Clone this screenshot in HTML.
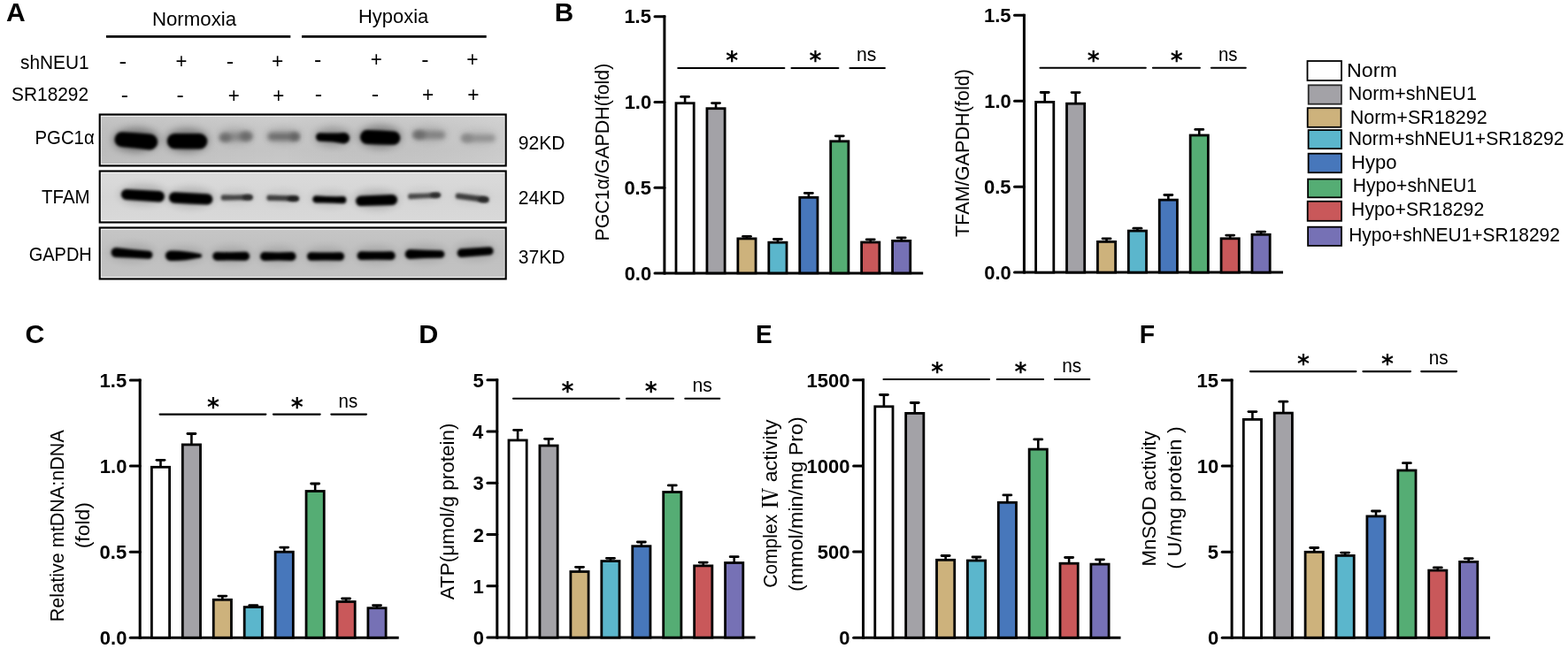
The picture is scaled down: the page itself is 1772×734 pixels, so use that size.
<!DOCTYPE html>
<html><head><meta charset="utf-8"><title>Figure</title>
<style>html,body{margin:0;padding:0;background:#fff;width:1772px;height:734px;overflow:hidden}svg{display:block}</style>
</head><body>
<svg width="1772" height="734" viewBox="0 0 1772 734" font-family="&apos;Liberation Sans&apos;, Arial, sans-serif">
<rect width="1772" height="734" fill="#fff"/>
<text x="7.12" y="23.70" font-size="29" font-weight="700" textLength="21.71" lengthAdjust="spacingAndGlyphs" fill="#000">A</text>
<text x="626.85" y="23.60" font-size="29" font-weight="700" textLength="21.43" lengthAdjust="spacingAndGlyphs" fill="#000">B</text>
<text x="28.49" y="388.30" font-size="29" font-weight="700" textLength="21.90" lengthAdjust="spacingAndGlyphs" fill="#000">C</text>
<text x="473.19" y="387.90" font-size="29" font-weight="700" textLength="22.07" lengthAdjust="spacingAndGlyphs" fill="#000">D</text>
<text x="853.97" y="387.90" font-size="29" font-weight="700" textLength="18.69" lengthAdjust="spacingAndGlyphs" fill="#000">E</text>
<text x="1287.65" y="387.90" font-size="29" font-weight="700" textLength="17.30" lengthAdjust="spacingAndGlyphs" fill="#000">F</text>
<text x="171.91" y="29.20" font-size="21.8" font-weight="400" textLength="95.20" lengthAdjust="spacingAndGlyphs" fill="#000">Normoxia</text>
<text x="405.04" y="26.10" font-size="21.8" font-weight="400" textLength="79.16" lengthAdjust="spacingAndGlyphs" fill="#000">Hypoxia</text>
<line x1="120.00" y1="41.30" x2="328.30" y2="41.30" stroke="#000" stroke-width="2.8" stroke-linecap="butt"/>
<line x1="341.00" y1="41.30" x2="549.70" y2="41.30" stroke="#000" stroke-width="2.8" stroke-linecap="butt"/>
<text x="22.98" y="77.60" font-size="21.8" font-weight="400" textLength="77.64" lengthAdjust="spacingAndGlyphs" fill="#000">shNEU1</text>
<text x="13.04" y="113.60" font-size="21.8" font-weight="400" textLength="87.07" lengthAdjust="spacingAndGlyphs" fill="#000">SR18292</text>
<text x="134.62" y="76.78" font-size="24" font-weight="400" textLength="8.67" lengthAdjust="spacingAndGlyphs" fill="#000">-</text>
<text x="198.55" y="77.20" font-size="24" font-weight="400" textLength="12.92" lengthAdjust="spacingAndGlyphs" fill="#000">+</text>
<text x="255.75" y="76.78" font-size="24" font-weight="400" textLength="8.40" lengthAdjust="spacingAndGlyphs" fill="#000">-</text>
<text x="306.92" y="77.20" font-size="24" font-weight="400" textLength="13.28" lengthAdjust="spacingAndGlyphs" fill="#000">+</text>
<text x="354.97" y="74.58" font-size="24" font-weight="400" textLength="8.27" lengthAdjust="spacingAndGlyphs" fill="#000">-</text>
<text x="418.84" y="75.30" font-size="24" font-weight="400" textLength="13.04" lengthAdjust="spacingAndGlyphs" fill="#000">+</text>
<text x="476.17" y="74.58" font-size="24" font-weight="400" textLength="8.27" lengthAdjust="spacingAndGlyphs" fill="#000">-</text>
<text x="527.22" y="75.30" font-size="24" font-weight="400" textLength="13.28" lengthAdjust="spacingAndGlyphs" fill="#000">+</text>
<text x="136.77" y="115.28" font-size="24" font-weight="400" textLength="8.27" lengthAdjust="spacingAndGlyphs" fill="#000">-</text>
<text x="199.57" y="115.28" font-size="24" font-weight="400" textLength="8.27" lengthAdjust="spacingAndGlyphs" fill="#000">-</text>
<text x="257.74" y="116.20" font-size="24" font-weight="400" textLength="13.04" lengthAdjust="spacingAndGlyphs" fill="#000">+</text>
<text x="308.14" y="116.20" font-size="24" font-weight="400" textLength="13.04" lengthAdjust="spacingAndGlyphs" fill="#000">+</text>
<text x="355.75" y="114.47" font-size="24" font-weight="400" textLength="8.40" lengthAdjust="spacingAndGlyphs" fill="#000">-</text>
<text x="419.75" y="114.47" font-size="24" font-weight="400" textLength="8.40" lengthAdjust="spacingAndGlyphs" fill="#000">-</text>
<text x="476.92" y="115.20" font-size="24" font-weight="400" textLength="13.28" lengthAdjust="spacingAndGlyphs" fill="#000">+</text>
<text x="528.22" y="115.20" font-size="24" font-weight="400" textLength="13.28" lengthAdjust="spacingAndGlyphs" fill="#000">+</text>
<text x="39.57" y="163.20" font-size="21.8" font-weight="400" textLength="67.10" lengthAdjust="spacingAndGlyphs" fill="#000">PGC1α</text>
<text x="47.03" y="230.00" font-size="21.8" font-weight="400" textLength="54.63" lengthAdjust="spacingAndGlyphs" fill="#000">TFAM</text>
<text x="32.68" y="295.30" font-size="21.8" font-weight="400" textLength="71.14" lengthAdjust="spacingAndGlyphs" fill="#000">GAPDH</text>
<text x="585.73" y="169.20" font-size="21.8" font-weight="400" textLength="52.66" lengthAdjust="spacingAndGlyphs" fill="#000">92KD</text>
<text x="585.73" y="231.00" font-size="21.8" font-weight="400" textLength="52.66" lengthAdjust="spacingAndGlyphs" fill="#000">24KD</text>
<text x="585.73" y="298.30" font-size="21.8" font-weight="400" textLength="52.66" lengthAdjust="spacingAndGlyphs" fill="#000">37KD</text>
<defs>
<filter id="b1" x="-20%" y="-80%" width="140%" height="260%"><feGaussianBlur stdDeviation="1.0"/></filter>
<filter id="b15" x="-20%" y="-80%" width="140%" height="260%"><feGaussianBlur stdDeviation="1.5"/></filter>
<filter id="b2" x="-30%" y="-100%" width="160%" height="300%"><feGaussianBlur stdDeviation="1.8"/></filter>
<filter id="b16" x="-30%" y="-100%" width="160%" height="300%"><feGaussianBlur stdDeviation="1.5"/></filter>
<filter id="b25" x="-30%" y="-100%" width="160%" height="300%"><feGaussianBlur stdDeviation="2.6"/></filter>
<filter id="b4" x="-40%" y="-150%" width="180%" height="400%"><feGaussianBlur stdDeviation="4.5"/></filter>
<linearGradient id="g1" x1="0" y1="0" x2="0" y2="1"><stop offset="0" stop-color="#cfcfcf"/><stop offset="0.3" stop-color="#c7c7c7"/><stop offset="0.7" stop-color="#c5c5c5"/><stop offset="1" stop-color="#c9c9c9"/></linearGradient>
<linearGradient id="h1" x1="0" y1="0" x2="1" y2="0"><stop offset="0" stop-color="#000" stop-opacity="0.05"/><stop offset="0.45" stop-color="#000" stop-opacity="0.0"/><stop offset="1" stop-color="#fff" stop-opacity="0.1"/></linearGradient>
<linearGradient id="g2" x1="0" y1="0" x2="0" y2="1"><stop offset="0" stop-color="#dbdbdb"/><stop offset="0.5" stop-color="#d5d5d5"/><stop offset="1" stop-color="#d9d9d9"/></linearGradient>
<linearGradient id="g3" x1="0" y1="0" x2="0" y2="1"><stop offset="0" stop-color="#c6c6c6"/><stop offset="0.5" stop-color="#bfbfbf"/><stop offset="1" stop-color="#c3c3c3"/></linearGradient>
<clipPath id="c1"><rect x="113" y="129.8" width="458.4" height="57.4"/></clipPath>
<clipPath id="c2"><rect x="113" y="193.8" width="458.4" height="57.4"/></clipPath>
<clipPath id="c3"><rect x="113" y="257.8" width="458.4" height="57.4"/></clipPath>
</defs>
<rect x="112.7" y="129.50" width="459" height="58" fill="url(#g1)"/>
<rect x="112.7" y="129.50" width="459" height="58" fill="url(#h1)"/>
<g clip-path="url(#c1)">
<ellipse cx="153.85" cy="158.15" rx="26.35" ry="13.75" fill="#000" opacity="0.360" filter="url(#b4)"/>
<path d="M138.00,149.30 Q154.10,150.40 169.20,151.50 A9.00,9.00 0 0 1 169.20,169.50 Q154.10,167.90 138.00,166.30 A8.50,8.50 0 0 1 138.00,149.30 Z" fill="#000" filter="url(#b16)"/>
<ellipse cx="211.55" cy="158.70" rx="24.75" ry="13.65" fill="#000" opacity="0.340" filter="url(#b4)"/>
<path d="M197.40,151.00 Q211.60,151.05 225.60,151.10 A8.70,8.70 0 0 1 225.60,168.50 Q211.60,168.35 197.40,168.20 A8.60,8.60 0 0 1 197.40,151.00 Z" fill="#000" filter="url(#b16)"/>
<ellipse cx="266.75" cy="153.60" rx="19.75" ry="9.38" fill="#000" opacity="0.120" filter="url(#b4)"/>
<path d="M253.25,150.75 Q266.88,150.66 280.00,149.70 A4.50,4.50 0 0 1 280.00,158.70 Q266.88,158.54 253.25,159.25 A4.25,4.25 0 0 1 253.25,150.75 Z" fill="#878787" filter="url(#b25)"/>
<ellipse cx="254.60" cy="155.80" rx="6.50" ry="4.50" fill="#6c6c6c" filter="url(#b25)"/>
<ellipse cx="277.80" cy="154.20" rx="7.00" ry="5.00" fill="#6a6a6a" filter="url(#b25)"/>
<ellipse cx="320.50" cy="153.60" rx="20.00" ry="9.50" fill="#000" opacity="0.120" filter="url(#b4)"/>
<path d="M307.00,150.10 Q320.50,150.10 334.00,150.10 A4.50,4.50 0 0 1 334.00,159.10 Q320.50,159.10 307.00,159.10 A4.50,4.50 0 0 1 307.00,150.10 Z" fill="#707070" filter="url(#b25)"/>
<ellipse cx="333.00" cy="154.60" rx="5.00" ry="4.00" fill="#626262" filter="url(#b25)"/>
<ellipse cx="376.00" cy="154.60" rx="21.00" ry="10.50" fill="#000" opacity="0.240" filter="url(#b4)"/>
<path d="M361.80,150.20 Q376.70,150.98 388.80,150.00 A6.20,6.20 0 0 1 388.80,162.40 Q376.70,160.22 361.80,159.80 A4.80,4.80 0 0 1 361.80,150.20 Z" fill="#000" filter="url(#b16)"/>
<ellipse cx="429.65" cy="154.60" rx="24.65" ry="12.85" fill="#000" opacity="0.340" filter="url(#b4)"/>
<path d="M415.00,147.10 Q429.50,147.28 444.60,148.40 A7.70,7.70 0 0 1 444.60,163.80 Q429.50,163.92 415.00,163.10 A8.00,8.00 0 0 1 415.00,147.10 Z" fill="#000" filter="url(#b16)"/>
<ellipse cx="485.00" cy="151.65" rx="20.00" ry="9.38" fill="#000" opacity="0.100" filter="url(#b4)"/>
<path d="M471.50,148.00 Q484.88,148.28 498.75,148.55 A4.25,4.25 0 0 1 498.75,157.05 Q484.88,157.03 471.50,157.00 A4.50,4.50 0 0 1 471.50,148.00 Z" fill="#828282" filter="url(#b25)"/>
<ellipse cx="474.00" cy="152.50" rx="7.00" ry="4.50" fill="#6c6c6c" filter="url(#b25)"/>
<ellipse cx="540.50" cy="155.30" rx="21.00" ry="9.12" fill="#000" opacity="0.060" filter="url(#b4)"/>
<path d="M525.75,152.05 Q540.38,152.18 555.50,152.30 A4.00,4.00 0 0 1 555.50,160.30 Q540.38,160.43 525.75,160.55 A4.25,4.25 0 0 1 525.75,152.05 Z" fill="#929292" filter="url(#b25)"/>
<ellipse cx="528.00" cy="156.30" rx="6.00" ry="4.00" fill="#888888" filter="url(#b25)"/>
</g>
<rect x="114.1" y="131.40" width="456.2" height="54.2" fill="none" stroke="#fff" stroke-width="1" opacity="0.85"/>
<rect x="112.7" y="129.50" width="459" height="58" fill="none" stroke="#000" stroke-width="2.1"/>
<rect x="112.7" y="193.50" width="459" height="58" fill="url(#g2)"/>
<g clip-path="url(#c2)">
<ellipse cx="161.40" cy="220.05" rx="26.50" ry="11.15" fill="#000" opacity="0.180" filter="url(#b4)"/>
<path d="M142.90,213.90 Q161.55,214.90 179.60,215.90 A6.30,6.30 0 0 1 179.60,228.50 Q161.55,227.20 142.90,225.90 A6.00,6.00 0 0 1 142.90,213.90 Z" fill="#000" filter="url(#b16)"/>
<ellipse cx="215.65" cy="223.45" rx="26.65" ry="11.15" fill="#000" opacity="0.180" filter="url(#b4)"/>
<path d="M197.20,217.30 Q215.60,218.30 234.20,219.30 A6.10,6.10 0 0 1 234.20,231.50 Q215.60,230.60 197.20,229.70 A6.20,6.20 0 0 1 197.20,217.30 Z" fill="#000" filter="url(#b16)"/>
<ellipse cx="267.50" cy="222.40" rx="19.90" ry="8.20" fill="#000" opacity="0.060" filter="url(#b4)"/>
<path d="M252.80,220.30 Q267.50,220.71 282.20,220.10 A3.20,3.20 0 0 1 282.20,226.50 Q267.50,226.09 252.80,226.70 A3.20,3.20 0 0 1 252.80,220.30 Z" fill="#444444" filter="url(#b2)"/>
<ellipse cx="279.50" cy="223.20" rx="6.00" ry="2.80" fill="#2a2a2a" filter="url(#b2)"/>
<ellipse cx="319.55" cy="223.15" rx="20.25" ry="8.25" fill="#000" opacity="0.060" filter="url(#b4)"/>
<path d="M304.60,220.50 Q319.50,221.42 334.60,221.30 A3.20,3.20 0 0 1 334.60,227.70 Q319.50,226.88 304.60,227.10 A3.30,3.30 0 0 1 304.60,220.50 Z" fill="#3c3c3c" filter="url(#b2)"/>
<ellipse cx="331.00" cy="224.70" rx="6.50" ry="2.80" fill="#1a1a1a" filter="url(#b2)"/>
<ellipse cx="372.30" cy="224.80" rx="21.10" ry="9.15" fill="#000" opacity="0.100" filter="url(#b4)"/>
<path d="M357.40,221.20 Q372.25,222.48 387.30,222.10 A4.10,4.10 0 0 1 387.30,230.30 Q372.25,229.12 357.40,229.60 A4.20,4.20 0 0 1 357.40,221.20 Z" fill="#000" filter="url(#b16)"/>
<ellipse cx="425.55" cy="225.65" rx="25.55" ry="10.90" fill="#000" opacity="0.180" filter="url(#b4)"/>
<path d="M407.80,221.50 Q425.65,220.75 443.10,220.00 A6.00,6.00 0 0 1 443.10,232.00 Q425.65,232.55 407.80,233.10 A5.80,5.80 0 0 1 407.80,221.50 Z" fill="#000" filter="url(#b16)"/>
<ellipse cx="479.25" cy="220.45" rx="20.25" ry="8.05" fill="#000" opacity="0.048" filter="url(#b4)"/>
<path d="M464.10,219.10 Q479.20,218.89 494.50,217.70 A3.00,3.00 0 0 1 494.50,223.70 Q479.20,224.01 464.10,225.30 A3.10,3.10 0 0 1 464.10,219.10 Z" fill="#4a4a4a" filter="url(#b2)"/>
<ellipse cx="492.00" cy="220.70" rx="6.00" ry="2.70" fill="#2a2a2a" filter="url(#b2)"/>
<ellipse cx="533.60" cy="222.85" rx="20.90" ry="8.25" fill="#000" opacity="0.048" filter="url(#b4)"/>
<path d="M517.90,218.60 Q533.65,220.60 549.20,222.60 A3.30,3.30 0 0 1 549.20,229.20 Q533.65,227.10 517.90,225.00 A3.20,3.20 0 0 1 517.90,218.60 Z" fill="#3e3e3e" filter="url(#b2)"/>
<ellipse cx="546.00" cy="225.60" rx="6.00" ry="3.10" fill="#282828" filter="url(#b2)"/>
</g>
<rect x="114.1" y="195.40" width="456.2" height="54.2" fill="none" stroke="#fff" stroke-width="1" opacity="0.85"/>
<rect x="112.7" y="193.50" width="459" height="58" fill="none" stroke="#000" stroke-width="2.1"/>
<rect x="112.7" y="257.50" width="459" height="58" fill="url(#g3)"/>
<g clip-path="url(#c3)">
<ellipse cx="149.00" cy="285.90" rx="25.40" ry="10.05" fill="#000" opacity="0.120" filter="url(#b4)"/>
<path d="M131.20,279.90 Q148.45,281.85 167.90,283.80 A4.50,4.50 0 0 1 167.90,292.80 Q148.45,291.95 131.20,291.10 A5.60,5.60 0 0 1 131.20,279.90 Z" fill="#000" filter="url(#b16)"/>
<ellipse cx="207.50" cy="288.20" rx="22.60" ry="9.00" fill="#000" opacity="0.120" filter="url(#b4)"/>
<path d="M192.60,283.50 Q205.80,282.80 225.80,286.90 A2.30,2.30 0 0 1 225.80,291.50 Q205.80,295.60 192.60,294.90 A5.70,5.70 0 0 1 192.60,283.50 Z" fill="#000" filter="url(#b16)"/>
<ellipse cx="261.20" cy="288.80" rx="22.90" ry="9.95" fill="#000" opacity="0.120" filter="url(#b4)"/>
<path d="M245.20,284.90 Q261.25,285.54 277.10,284.80 A5.00,5.00 0 0 1 277.10,294.80 Q261.25,294.06 245.20,294.70 A4.90,4.90 0 0 1 245.20,284.90 Z" fill="#000" filter="url(#b16)"/>
<ellipse cx="314.25" cy="289.00" rx="22.25" ry="9.90" fill="#000" opacity="0.120" filter="url(#b4)"/>
<path d="M298.90,285.10 Q314.25,285.79 329.60,285.10 A4.90,4.90 0 0 1 329.60,294.90 Q314.25,294.21 298.90,294.90 A4.90,4.90 0 0 1 298.90,285.10 Z" fill="#000" filter="url(#b16)"/>
<ellipse cx="368.05" cy="289.00" rx="23.05" ry="9.80" fill="#000" opacity="0.120" filter="url(#b4)"/>
<path d="M351.80,285.20 Q368.05,285.68 384.30,285.20 A4.80,4.80 0 0 1 384.30,294.80 Q368.05,294.32 351.80,294.80 A4.80,4.80 0 0 1 351.80,285.20 Z" fill="#000" filter="url(#b16)"/>
<ellipse cx="425.15" cy="288.20" rx="23.55" ry="9.90" fill="#000" opacity="0.120" filter="url(#b4)"/>
<path d="M408.50,284.30 Q425.15,284.79 441.80,284.30 A4.90,4.90 0 0 1 441.80,294.10 Q425.15,293.61 408.50,294.10 A4.90,4.90 0 0 1 408.50,284.30 Z" fill="#000" filter="url(#b16)"/>
<ellipse cx="480.05" cy="286.50" rx="24.35" ry="9.85" fill="#000" opacity="0.120" filter="url(#b4)"/>
<path d="M463.10,282.10 Q479.50,283.13 498.10,283.20 A4.30,4.30 0 0 1 498.10,291.80 Q479.50,291.87 463.10,292.90 A5.40,5.40 0 0 1 463.10,282.10 Z" fill="#000" filter="url(#b16)"/>
<ellipse cx="537.15" cy="284.05" rx="22.45" ry="9.80" fill="#000" opacity="0.120" filter="url(#b4)"/>
<path d="M521.60,281.30 Q537.05,280.25 552.90,279.20 A4.70,4.70 0 0 1 552.90,288.60 Q537.05,289.85 521.60,291.10 A4.90,4.90 0 0 1 521.60,281.30 Z" fill="#000" filter="url(#b16)"/>
</g>
<rect x="114.1" y="259.40" width="456.2" height="54.2" fill="none" stroke="#fff" stroke-width="1" opacity="0.85"/>
<rect x="112.7" y="257.50" width="459" height="58" fill="none" stroke="#000" stroke-width="2.1"/>
<line x1="750.90" y1="17.15" x2="750.90" y2="310.40" stroke="#000" stroke-width="3.0" stroke-linecap="butt"/>
<line x1="750.90" y1="308.90" x2="1043.20" y2="308.90" stroke="#000" stroke-width="3.0" stroke-linecap="butt"/>
<line x1="740.00" y1="308.90" x2="750.90" y2="308.90" stroke="#000" stroke-width="3.0" stroke-linecap="round"/>
<text x="705.65" y="316.82" font-size="22" font-weight="700" textLength="30.59" lengthAdjust="spacingAndGlyphs" fill="#000">0.0</text>
<line x1="740.00" y1="212.15" x2="750.90" y2="212.15" stroke="#000" stroke-width="3.0" stroke-linecap="round"/>
<text x="705.40" y="220.07" font-size="22" font-weight="700" textLength="30.59" lengthAdjust="spacingAndGlyphs" fill="#000">0.5</text>
<line x1="740.00" y1="115.40" x2="750.90" y2="115.40" stroke="#000" stroke-width="3.0" stroke-linecap="round"/>
<text x="705.65" y="123.32" font-size="22" font-weight="700" textLength="30.59" lengthAdjust="spacingAndGlyphs" fill="#000">1.0</text>
<line x1="740.00" y1="18.65" x2="750.90" y2="18.65" stroke="#000" stroke-width="3.0" stroke-linecap="round"/>
<text x="705.40" y="26.45" font-size="22" font-weight="700" textLength="30.59" lengthAdjust="spacingAndGlyphs" fill="#000">1.5</text>
<line x1="774.10" y1="116.30" x2="774.10" y2="109.40" stroke="#000" stroke-width="2.6" stroke-linecap="butt"/>
<line x1="769.60" y1="109.40" x2="778.60" y2="109.40" stroke="#000" stroke-width="2.8" stroke-linecap="round"/>
<rect x="764.00" y="116.70" width="20.20" height="192.20" fill="#ffffff" stroke="#000" stroke-width="2.8"/>
<line x1="809.04" y1="122.30" x2="809.04" y2="116.60" stroke="#000" stroke-width="2.6" stroke-linecap="butt"/>
<line x1="804.54" y1="116.60" x2="813.54" y2="116.60" stroke="#000" stroke-width="2.8" stroke-linecap="round"/>
<rect x="798.94" y="122.70" width="20.20" height="186.20" fill="#a3a2a7" stroke="#000" stroke-width="2.8"/>
<line x1="843.98" y1="269.50" x2="843.98" y2="267.30" stroke="#000" stroke-width="2.6" stroke-linecap="butt"/>
<line x1="839.48" y1="267.30" x2="848.48" y2="267.30" stroke="#000" stroke-width="2.8" stroke-linecap="round"/>
<rect x="833.88" y="269.90" width="20.20" height="39.00" fill="#cdb27c" stroke="#000" stroke-width="2.8"/>
<line x1="878.92" y1="273.80" x2="878.92" y2="270.50" stroke="#000" stroke-width="2.6" stroke-linecap="butt"/>
<line x1="874.42" y1="270.50" x2="883.42" y2="270.50" stroke="#000" stroke-width="2.8" stroke-linecap="round"/>
<rect x="868.82" y="274.20" width="20.20" height="34.70" fill="#5bb6cc" stroke="#000" stroke-width="2.8"/>
<line x1="913.86" y1="222.90" x2="913.86" y2="218.40" stroke="#000" stroke-width="2.6" stroke-linecap="butt"/>
<line x1="909.36" y1="218.40" x2="918.36" y2="218.40" stroke="#000" stroke-width="2.8" stroke-linecap="round"/>
<rect x="903.76" y="223.30" width="20.20" height="85.60" fill="#4777bb" stroke="#000" stroke-width="2.8"/>
<line x1="948.80" y1="159.40" x2="948.80" y2="153.80" stroke="#000" stroke-width="2.6" stroke-linecap="butt"/>
<line x1="944.30" y1="153.80" x2="953.30" y2="153.80" stroke="#000" stroke-width="2.8" stroke-linecap="round"/>
<rect x="938.70" y="159.80" width="20.20" height="149.10" fill="#55ad74" stroke="#000" stroke-width="2.8"/>
<line x1="983.74" y1="273.60" x2="983.74" y2="270.80" stroke="#000" stroke-width="2.6" stroke-linecap="butt"/>
<line x1="979.24" y1="270.80" x2="988.24" y2="270.80" stroke="#000" stroke-width="2.8" stroke-linecap="round"/>
<rect x="973.64" y="274.00" width="20.20" height="34.90" fill="#c9585a" stroke="#000" stroke-width="2.8"/>
<line x1="1018.68" y1="272.00" x2="1018.68" y2="268.90" stroke="#000" stroke-width="2.6" stroke-linecap="butt"/>
<line x1="1014.18" y1="268.90" x2="1023.18" y2="268.90" stroke="#000" stroke-width="2.8" stroke-linecap="round"/>
<rect x="1008.58" y="272.40" width="20.20" height="36.50" fill="#7671b5" stroke="#000" stroke-width="2.8"/>
<line x1="766.30" y1="77.00" x2="886.40" y2="77.00" stroke="#000" stroke-width="2.1" stroke-linecap="round"/>
<line x1="894.50" y1="77.00" x2="947.40" y2="77.00" stroke="#000" stroke-width="2.1" stroke-linecap="round"/>
<line x1="960.50" y1="77.00" x2="999.90" y2="77.00" stroke="#000" stroke-width="2.1" stroke-linecap="round"/>
<text x="820.16" y="78.05" font-size="28.8" font-weight="700" textLength="13.91" lengthAdjust="spacingAndGlyphs" fill="#000" font-family="DejaVu Sans">*</text>
<text x="914.46" y="78.05" font-size="28.8" font-weight="700" textLength="13.91" lengthAdjust="spacingAndGlyphs" fill="#000" font-family="DejaVu Sans">*</text>
<text x="968.04" y="69.00" font-size="21.8" font-weight="400" textLength="22.42" lengthAdjust="spacingAndGlyphs" fill="#000">ns</text>
<text transform="translate(687.90,272.61) rotate(-90)" x="0" y="0" font-size="21.8" font-weight="400" textLength="200.92" lengthAdjust="spacingAndGlyphs">PGC1α/GAPDH(fold)</text>
<line x1="1157.40" y1="15.75" x2="1157.40" y2="309.60" stroke="#000" stroke-width="3.0" stroke-linecap="butt"/>
<line x1="1157.40" y1="308.10" x2="1450.00" y2="308.10" stroke="#000" stroke-width="3.0" stroke-linecap="butt"/>
<line x1="1146.50" y1="308.10" x2="1157.40" y2="308.10" stroke="#000" stroke-width="3.0" stroke-linecap="round"/>
<text x="1112.25" y="316.03" font-size="22" font-weight="700" textLength="30.59" lengthAdjust="spacingAndGlyphs" fill="#000">0.0</text>
<line x1="1146.50" y1="211.15" x2="1157.40" y2="211.15" stroke="#000" stroke-width="3.0" stroke-linecap="round"/>
<text x="1112.00" y="219.08" font-size="22" font-weight="700" textLength="30.59" lengthAdjust="spacingAndGlyphs" fill="#000">0.5</text>
<line x1="1146.50" y1="114.20" x2="1157.40" y2="114.20" stroke="#000" stroke-width="3.0" stroke-linecap="round"/>
<text x="1112.25" y="122.13" font-size="22" font-weight="700" textLength="30.59" lengthAdjust="spacingAndGlyphs" fill="#000">1.0</text>
<line x1="1146.50" y1="17.25" x2="1157.40" y2="17.25" stroke="#000" stroke-width="3.0" stroke-linecap="round"/>
<text x="1112.00" y="25.05" font-size="22" font-weight="700" textLength="30.59" lengthAdjust="spacingAndGlyphs" fill="#000">1.5</text>
<line x1="1180.70" y1="115.00" x2="1180.70" y2="104.50" stroke="#000" stroke-width="2.6" stroke-linecap="butt"/>
<line x1="1176.20" y1="104.50" x2="1185.20" y2="104.50" stroke="#000" stroke-width="2.8" stroke-linecap="round"/>
<rect x="1170.60" y="115.40" width="20.20" height="192.70" fill="#ffffff" stroke="#000" stroke-width="2.8"/>
<line x1="1215.61" y1="116.80" x2="1215.61" y2="104.60" stroke="#000" stroke-width="2.6" stroke-linecap="butt"/>
<line x1="1211.11" y1="104.60" x2="1220.11" y2="104.60" stroke="#000" stroke-width="2.8" stroke-linecap="round"/>
<rect x="1205.51" y="117.20" width="20.20" height="190.90" fill="#a3a2a7" stroke="#000" stroke-width="2.8"/>
<line x1="1250.52" y1="273.00" x2="1250.52" y2="269.90" stroke="#000" stroke-width="2.6" stroke-linecap="butt"/>
<line x1="1246.02" y1="269.90" x2="1255.02" y2="269.90" stroke="#000" stroke-width="2.8" stroke-linecap="round"/>
<rect x="1240.42" y="273.40" width="20.20" height="34.70" fill="#cdb27c" stroke="#000" stroke-width="2.8"/>
<line x1="1285.43" y1="260.70" x2="1285.43" y2="258.20" stroke="#000" stroke-width="2.6" stroke-linecap="butt"/>
<line x1="1280.93" y1="258.20" x2="1289.93" y2="258.20" stroke="#000" stroke-width="2.8" stroke-linecap="round"/>
<rect x="1275.33" y="261.10" width="20.20" height="47.00" fill="#5bb6cc" stroke="#000" stroke-width="2.8"/>
<line x1="1320.34" y1="225.70" x2="1320.34" y2="220.50" stroke="#000" stroke-width="2.6" stroke-linecap="butt"/>
<line x1="1315.84" y1="220.50" x2="1324.84" y2="220.50" stroke="#000" stroke-width="2.8" stroke-linecap="round"/>
<rect x="1310.24" y="226.10" width="20.20" height="82.00" fill="#4777bb" stroke="#000" stroke-width="2.8"/>
<line x1="1355.25" y1="152.60" x2="1355.25" y2="146.40" stroke="#000" stroke-width="2.6" stroke-linecap="butt"/>
<line x1="1350.75" y1="146.40" x2="1359.75" y2="146.40" stroke="#000" stroke-width="2.8" stroke-linecap="round"/>
<rect x="1345.15" y="153.00" width="20.20" height="155.10" fill="#55ad74" stroke="#000" stroke-width="2.8"/>
<line x1="1390.16" y1="269.40" x2="1390.16" y2="266.10" stroke="#000" stroke-width="2.6" stroke-linecap="butt"/>
<line x1="1385.66" y1="266.10" x2="1394.66" y2="266.10" stroke="#000" stroke-width="2.8" stroke-linecap="round"/>
<rect x="1380.06" y="269.80" width="20.20" height="38.30" fill="#c9585a" stroke="#000" stroke-width="2.8"/>
<line x1="1425.07" y1="264.90" x2="1425.07" y2="262.20" stroke="#000" stroke-width="2.6" stroke-linecap="butt"/>
<line x1="1420.57" y1="262.20" x2="1429.57" y2="262.20" stroke="#000" stroke-width="2.8" stroke-linecap="round"/>
<rect x="1414.97" y="265.30" width="20.20" height="42.80" fill="#7671b5" stroke="#000" stroke-width="2.8"/>
<line x1="1175.50" y1="76.80" x2="1294.80" y2="76.80" stroke="#000" stroke-width="2.1" stroke-linecap="round"/>
<line x1="1302.90" y1="76.80" x2="1355.90" y2="76.80" stroke="#000" stroke-width="2.1" stroke-linecap="round"/>
<line x1="1368.90" y1="76.80" x2="1407.80" y2="76.80" stroke="#000" stroke-width="2.1" stroke-linecap="round"/>
<text x="1228.66" y="77.85" font-size="28.8" font-weight="700" textLength="13.91" lengthAdjust="spacingAndGlyphs" fill="#000" font-family="DejaVu Sans">*</text>
<text x="1322.76" y="77.85" font-size="28.8" font-weight="700" textLength="13.91" lengthAdjust="spacingAndGlyphs" fill="#000" font-family="DejaVu Sans">*</text>
<text x="1376.90" y="68.80" font-size="21.8" font-weight="400" textLength="21.53" lengthAdjust="spacingAndGlyphs" fill="#000">ns</text>
<text transform="translate(1095.20,268.00) rotate(-90)" x="0" y="0" font-size="21.8" font-weight="400" textLength="189.95" lengthAdjust="spacingAndGlyphs">TFAM/GAPDH(fold)</text>
<rect x="1477.50" y="69.00" width="38.50" height="22.00" fill="#ffffff" stroke="#000" stroke-width="1.8"/>
<text x="1522.14" y="87.40" font-size="21.8" font-weight="400" textLength="56.69" lengthAdjust="spacingAndGlyphs" fill="#000">Norm</text>
<rect x="1478.70" y="96.30" width="37.20" height="21.40" fill="#a3a2a7" stroke="#2a2a2a" stroke-width="1.8"/>
<text x="1523.67" y="112.60" font-size="21.8" font-weight="400" textLength="145.18" lengthAdjust="spacingAndGlyphs" fill="#000">Norm+shNEU1</text>
<rect x="1477.70" y="122.20" width="37.80" height="21.60" fill="#cdb27c" stroke="#000" stroke-width="1.8"/>
<text x="1525.67" y="139.60" font-size="21.8" font-weight="400" textLength="155.07" lengthAdjust="spacingAndGlyphs" fill="#000">Norm+SR18292</text>
<rect x="1478.60" y="147.10" width="37.40" height="21.00" fill="#5bb6cc" stroke="#000" stroke-width="1.8"/>
<text x="1523.70" y="164.30" font-size="21.8" font-weight="400" textLength="243.82" lengthAdjust="spacingAndGlyphs" fill="#000">Norm+shNEU1+SR18292</text>
<rect x="1478.60" y="173.70" width="37.40" height="21.50" fill="#4777bb" stroke="#000" stroke-width="1.8"/>
<text x="1527.03" y="191.00" font-size="21.8" font-weight="400" textLength="51.58" lengthAdjust="spacingAndGlyphs" fill="#000">Hypo</text>
<rect x="1478.10" y="202.60" width="37.90" height="20.70" fill="#55ad74" stroke="#000" stroke-width="1.8"/>
<text x="1528.81" y="217.40" font-size="21.8" font-weight="400" textLength="140.19" lengthAdjust="spacingAndGlyphs" fill="#000">Hypo+shNEU1</text>
<rect x="1477.70" y="227.70" width="38.30" height="22.10" fill="#c9585a" stroke="#000" stroke-width="1.8"/>
<text x="1527.10" y="243.80" font-size="21.8" font-weight="400" textLength="150.09" lengthAdjust="spacingAndGlyphs" fill="#000">Hypo+SR18292</text>
<rect x="1478.10" y="256.70" width="37.90" height="21.20" fill="#7671b5" stroke="#000" stroke-width="1.8"/>
<text x="1524.22" y="272.80" font-size="21.8" font-weight="400" textLength="238.69" lengthAdjust="spacingAndGlyphs" fill="#000">Hypo+shNEU1+SR18292</text>
<line x1="158.20" y1="428.55" x2="158.20" y2="722.70" stroke="#000" stroke-width="3.0" stroke-linecap="butt"/>
<line x1="158.20" y1="721.20" x2="450.70" y2="721.20" stroke="#000" stroke-width="3.0" stroke-linecap="butt"/>
<line x1="147.30" y1="721.20" x2="158.20" y2="721.20" stroke="#000" stroke-width="3.0" stroke-linecap="round"/>
<text x="112.85" y="729.12" font-size="22" font-weight="700" textLength="30.59" lengthAdjust="spacingAndGlyphs" fill="#000">0.0</text>
<line x1="147.30" y1="624.15" x2="158.20" y2="624.15" stroke="#000" stroke-width="3.0" stroke-linecap="round"/>
<text x="112.60" y="632.08" font-size="22" font-weight="700" textLength="30.59" lengthAdjust="spacingAndGlyphs" fill="#000">0.5</text>
<line x1="147.30" y1="527.10" x2="158.20" y2="527.10" stroke="#000" stroke-width="3.0" stroke-linecap="round"/>
<text x="112.85" y="535.02" font-size="22" font-weight="700" textLength="30.59" lengthAdjust="spacingAndGlyphs" fill="#000">1.0</text>
<line x1="147.30" y1="430.05" x2="158.20" y2="430.05" stroke="#000" stroke-width="3.0" stroke-linecap="round"/>
<text x="112.60" y="437.85" font-size="22" font-weight="700" textLength="30.59" lengthAdjust="spacingAndGlyphs" fill="#000">1.5</text>
<line x1="181.50" y1="527.90" x2="181.50" y2="520.30" stroke="#000" stroke-width="2.6" stroke-linecap="butt"/>
<line x1="177.00" y1="520.30" x2="186.00" y2="520.30" stroke="#000" stroke-width="2.8" stroke-linecap="round"/>
<rect x="171.40" y="528.30" width="20.20" height="192.90" fill="#ffffff" stroke="#000" stroke-width="2.8"/>
<line x1="216.43" y1="502.50" x2="216.43" y2="490.50" stroke="#000" stroke-width="2.6" stroke-linecap="butt"/>
<line x1="211.93" y1="490.50" x2="220.93" y2="490.50" stroke="#000" stroke-width="2.8" stroke-linecap="round"/>
<rect x="206.33" y="502.90" width="20.20" height="218.30" fill="#a3a2a7" stroke="#000" stroke-width="2.8"/>
<line x1="251.36" y1="677.90" x2="251.36" y2="674.10" stroke="#000" stroke-width="2.6" stroke-linecap="butt"/>
<line x1="246.86" y1="674.10" x2="255.86" y2="674.10" stroke="#000" stroke-width="2.8" stroke-linecap="round"/>
<rect x="241.26" y="678.30" width="20.20" height="42.90" fill="#cdb27c" stroke="#000" stroke-width="2.8"/>
<line x1="286.29" y1="686.20" x2="286.29" y2="684.60" stroke="#000" stroke-width="2.6" stroke-linecap="butt"/>
<line x1="281.79" y1="684.60" x2="290.79" y2="684.60" stroke="#000" stroke-width="2.8" stroke-linecap="round"/>
<rect x="276.19" y="686.60" width="20.20" height="34.60" fill="#5bb6cc" stroke="#000" stroke-width="2.8"/>
<line x1="321.22" y1="623.80" x2="321.22" y2="619.10" stroke="#000" stroke-width="2.6" stroke-linecap="butt"/>
<line x1="316.72" y1="619.10" x2="325.72" y2="619.10" stroke="#000" stroke-width="2.8" stroke-linecap="round"/>
<rect x="311.12" y="624.20" width="20.20" height="97.00" fill="#4777bb" stroke="#000" stroke-width="2.8"/>
<line x1="356.15" y1="555.10" x2="356.15" y2="547.00" stroke="#000" stroke-width="2.6" stroke-linecap="butt"/>
<line x1="351.65" y1="547.00" x2="360.65" y2="547.00" stroke="#000" stroke-width="2.8" stroke-linecap="round"/>
<rect x="346.05" y="555.50" width="20.20" height="165.70" fill="#55ad74" stroke="#000" stroke-width="2.8"/>
<line x1="391.08" y1="680.10" x2="391.08" y2="677.00" stroke="#000" stroke-width="2.6" stroke-linecap="butt"/>
<line x1="386.58" y1="677.00" x2="395.58" y2="677.00" stroke="#000" stroke-width="2.8" stroke-linecap="round"/>
<rect x="380.98" y="680.50" width="20.20" height="40.70" fill="#c9585a" stroke="#000" stroke-width="2.8"/>
<line x1="426.01" y1="687.30" x2="426.01" y2="684.60" stroke="#000" stroke-width="2.6" stroke-linecap="butt"/>
<line x1="421.51" y1="684.60" x2="430.51" y2="684.60" stroke="#000" stroke-width="2.8" stroke-linecap="round"/>
<rect x="415.91" y="687.70" width="20.20" height="33.50" fill="#7671b5" stroke="#000" stroke-width="2.8"/>
<line x1="180.60" y1="468.60" x2="300.40" y2="468.60" stroke="#000" stroke-width="2.1" stroke-linecap="round"/>
<line x1="308.90" y1="468.60" x2="361.70" y2="468.60" stroke="#000" stroke-width="2.1" stroke-linecap="round"/>
<line x1="374.30" y1="468.60" x2="414.00" y2="468.60" stroke="#000" stroke-width="2.1" stroke-linecap="round"/>
<text x="234.01" y="469.65" font-size="28.8" font-weight="700" textLength="13.91" lengthAdjust="spacingAndGlyphs" fill="#000" font-family="DejaVu Sans">*</text>
<text x="328.76" y="469.65" font-size="28.8" font-weight="700" textLength="13.91" lengthAdjust="spacingAndGlyphs" fill="#000" font-family="DejaVu Sans">*</text>
<text x="382.59" y="460.60" font-size="21.8" font-weight="400" textLength="21.64" lengthAdjust="spacingAndGlyphs" fill="#000">ns</text>
<text transform="translate(72.10,703.23) rotate(-90)" x="0" y="0" font-size="21.8" font-weight="400" textLength="217.03" lengthAdjust="spacingAndGlyphs">Relative mtDNA:nDNA</text>
<text transform="translate(100.50,620.32) rotate(-90)" x="0" y="0" font-size="21.8" font-weight="400" textLength="52.31" lengthAdjust="spacingAndGlyphs">(fold)</text>
<line x1="561.80" y1="428.30" x2="561.80" y2="722.60" stroke="#000" stroke-width="3.0" stroke-linecap="butt"/>
<line x1="561.80" y1="721.10" x2="853.60" y2="721.10" stroke="#000" stroke-width="3.0" stroke-linecap="butt"/>
<line x1="550.90" y1="721.10" x2="561.80" y2="721.10" stroke="#000" stroke-width="3.0" stroke-linecap="round"/>
<text x="534.75" y="729.02" font-size="22" font-weight="700" textLength="12.25" lengthAdjust="spacingAndGlyphs" fill="#000">0</text>
<line x1="550.90" y1="662.84" x2="561.80" y2="662.84" stroke="#000" stroke-width="3.0" stroke-linecap="round"/>
<text x="534.50" y="670.64" font-size="22" font-weight="700" textLength="12.25" lengthAdjust="spacingAndGlyphs" fill="#000">1</text>
<line x1="550.90" y1="604.58" x2="561.80" y2="604.58" stroke="#000" stroke-width="3.0" stroke-linecap="round"/>
<text x="534.75" y="612.50" font-size="22" font-weight="700" textLength="12.25" lengthAdjust="spacingAndGlyphs" fill="#000">2</text>
<line x1="550.90" y1="546.32" x2="561.80" y2="546.32" stroke="#000" stroke-width="3.0" stroke-linecap="round"/>
<text x="534.50" y="554.25" font-size="22" font-weight="700" textLength="12.25" lengthAdjust="spacingAndGlyphs" fill="#000">3</text>
<line x1="550.90" y1="488.06" x2="561.80" y2="488.06" stroke="#000" stroke-width="3.0" stroke-linecap="round"/>
<text x="534.00" y="495.86" font-size="22" font-weight="700" textLength="12.25" lengthAdjust="spacingAndGlyphs" fill="#000">4</text>
<line x1="550.90" y1="429.80" x2="561.80" y2="429.80" stroke="#000" stroke-width="3.0" stroke-linecap="round"/>
<text x="534.50" y="437.60" font-size="22" font-weight="700" textLength="12.25" lengthAdjust="spacingAndGlyphs" fill="#000">5</text>
<line x1="585.10" y1="497.50" x2="585.10" y2="486.40" stroke="#000" stroke-width="2.6" stroke-linecap="butt"/>
<line x1="580.60" y1="486.40" x2="589.60" y2="486.40" stroke="#000" stroke-width="2.8" stroke-linecap="round"/>
<rect x="575.00" y="497.90" width="20.20" height="223.20" fill="#ffffff" stroke="#000" stroke-width="2.8"/>
<line x1="620.04" y1="503.60" x2="620.04" y2="496.30" stroke="#000" stroke-width="2.6" stroke-linecap="butt"/>
<line x1="615.54" y1="496.30" x2="624.54" y2="496.30" stroke="#000" stroke-width="2.8" stroke-linecap="round"/>
<rect x="609.94" y="504.00" width="20.20" height="217.10" fill="#a3a2a7" stroke="#000" stroke-width="2.8"/>
<line x1="654.98" y1="646.10" x2="654.98" y2="641.30" stroke="#000" stroke-width="2.6" stroke-linecap="butt"/>
<line x1="650.48" y1="641.30" x2="659.48" y2="641.30" stroke="#000" stroke-width="2.8" stroke-linecap="round"/>
<rect x="644.88" y="646.50" width="20.20" height="74.60" fill="#cdb27c" stroke="#000" stroke-width="2.8"/>
<line x1="689.92" y1="634.20" x2="689.92" y2="631.30" stroke="#000" stroke-width="2.6" stroke-linecap="butt"/>
<line x1="685.42" y1="631.30" x2="694.42" y2="631.30" stroke="#000" stroke-width="2.8" stroke-linecap="round"/>
<rect x="679.82" y="634.60" width="20.20" height="86.50" fill="#5bb6cc" stroke="#000" stroke-width="2.8"/>
<line x1="724.86" y1="617.30" x2="724.86" y2="613.00" stroke="#000" stroke-width="2.6" stroke-linecap="butt"/>
<line x1="720.36" y1="613.00" x2="729.36" y2="613.00" stroke="#000" stroke-width="2.8" stroke-linecap="round"/>
<rect x="714.76" y="617.70" width="20.20" height="103.40" fill="#4777bb" stroke="#000" stroke-width="2.8"/>
<line x1="759.80" y1="556.10" x2="759.80" y2="548.90" stroke="#000" stroke-width="2.6" stroke-linecap="butt"/>
<line x1="755.30" y1="548.90" x2="764.30" y2="548.90" stroke="#000" stroke-width="2.8" stroke-linecap="round"/>
<rect x="749.70" y="556.50" width="20.20" height="164.60" fill="#55ad74" stroke="#000" stroke-width="2.8"/>
<line x1="794.74" y1="639.50" x2="794.74" y2="636.10" stroke="#000" stroke-width="2.6" stroke-linecap="butt"/>
<line x1="790.24" y1="636.10" x2="799.24" y2="636.10" stroke="#000" stroke-width="2.8" stroke-linecap="round"/>
<rect x="784.64" y="639.90" width="20.20" height="81.20" fill="#c9585a" stroke="#000" stroke-width="2.8"/>
<line x1="829.68" y1="636.10" x2="829.68" y2="629.70" stroke="#000" stroke-width="2.6" stroke-linecap="butt"/>
<line x1="825.18" y1="629.70" x2="834.18" y2="629.70" stroke="#000" stroke-width="2.8" stroke-linecap="round"/>
<rect x="819.58" y="636.50" width="20.20" height="84.60" fill="#7671b5" stroke="#000" stroke-width="2.8"/>
<line x1="580.00" y1="450.80" x2="699.70" y2="450.80" stroke="#000" stroke-width="2.1" stroke-linecap="round"/>
<line x1="708.00" y1="450.80" x2="761.00" y2="450.80" stroke="#000" stroke-width="2.1" stroke-linecap="round"/>
<line x1="774.30" y1="450.80" x2="813.30" y2="450.80" stroke="#000" stroke-width="2.1" stroke-linecap="round"/>
<text x="634.46" y="451.85" font-size="28.8" font-weight="700" textLength="13.91" lengthAdjust="spacingAndGlyphs" fill="#000" font-family="DejaVu Sans">*</text>
<text x="728.66" y="451.85" font-size="28.8" font-weight="700" textLength="13.91" lengthAdjust="spacingAndGlyphs" fill="#000" font-family="DejaVu Sans">*</text>
<text x="782.44" y="442.80" font-size="21.8" font-weight="400" textLength="22.42" lengthAdjust="spacingAndGlyphs" fill="#000">ns</text>
<text transform="translate(513.10,678.20) rotate(-90)" x="0" y="0" font-size="21.8" font-weight="400" textLength="199.60" lengthAdjust="spacingAndGlyphs">ATP(μmol/g protein)</text>
<line x1="975.50" y1="428.30" x2="975.50" y2="722.70" stroke="#000" stroke-width="3.0" stroke-linecap="butt"/>
<line x1="975.50" y1="721.20" x2="1266.50" y2="721.20" stroke="#000" stroke-width="3.0" stroke-linecap="butt"/>
<line x1="964.60" y1="721.20" x2="975.50" y2="721.20" stroke="#000" stroke-width="3.0" stroke-linecap="round"/>
<text x="948.35" y="729.12" font-size="22" font-weight="700" textLength="12.25" lengthAdjust="spacingAndGlyphs" fill="#000">0</text>
<line x1="964.60" y1="624.07" x2="975.50" y2="624.07" stroke="#000" stroke-width="3.0" stroke-linecap="round"/>
<text x="923.85" y="631.99" font-size="22" font-weight="700" textLength="36.72" lengthAdjust="spacingAndGlyphs" fill="#000">500</text>
<line x1="964.60" y1="526.93" x2="975.50" y2="526.93" stroke="#000" stroke-width="3.0" stroke-linecap="round"/>
<text x="911.60" y="534.86" font-size="22" font-weight="700" textLength="48.95" lengthAdjust="spacingAndGlyphs" fill="#000">1000</text>
<line x1="964.60" y1="429.80" x2="975.50" y2="429.80" stroke="#000" stroke-width="3.0" stroke-linecap="round"/>
<text x="911.60" y="437.72" font-size="22" font-weight="700" textLength="48.95" lengthAdjust="spacingAndGlyphs" fill="#000">1500</text>
<line x1="998.90" y1="459.40" x2="998.90" y2="446.50" stroke="#000" stroke-width="2.6" stroke-linecap="butt"/>
<line x1="994.40" y1="446.50" x2="1003.40" y2="446.50" stroke="#000" stroke-width="2.8" stroke-linecap="round"/>
<rect x="988.80" y="459.80" width="20.20" height="261.40" fill="#ffffff" stroke="#000" stroke-width="2.8"/>
<line x1="1033.77" y1="467.00" x2="1033.77" y2="455.50" stroke="#000" stroke-width="2.6" stroke-linecap="butt"/>
<line x1="1029.27" y1="455.50" x2="1038.27" y2="455.50" stroke="#000" stroke-width="2.8" stroke-linecap="round"/>
<rect x="1023.67" y="467.40" width="20.20" height="253.80" fill="#a3a2a7" stroke="#000" stroke-width="2.8"/>
<line x1="1068.64" y1="632.90" x2="1068.64" y2="628.50" stroke="#000" stroke-width="2.6" stroke-linecap="butt"/>
<line x1="1064.14" y1="628.50" x2="1073.14" y2="628.50" stroke="#000" stroke-width="2.8" stroke-linecap="round"/>
<rect x="1058.54" y="633.30" width="20.20" height="87.90" fill="#cdb27c" stroke="#000" stroke-width="2.8"/>
<line x1="1103.51" y1="633.60" x2="1103.51" y2="630.00" stroke="#000" stroke-width="2.6" stroke-linecap="butt"/>
<line x1="1099.01" y1="630.00" x2="1108.01" y2="630.00" stroke="#000" stroke-width="2.8" stroke-linecap="round"/>
<rect x="1093.41" y="634.00" width="20.20" height="87.20" fill="#5bb6cc" stroke="#000" stroke-width="2.8"/>
<line x1="1138.38" y1="567.90" x2="1138.38" y2="559.90" stroke="#000" stroke-width="2.6" stroke-linecap="butt"/>
<line x1="1133.88" y1="559.90" x2="1142.88" y2="559.90" stroke="#000" stroke-width="2.8" stroke-linecap="round"/>
<rect x="1128.28" y="568.30" width="20.20" height="152.90" fill="#4777bb" stroke="#000" stroke-width="2.8"/>
<line x1="1173.25" y1="507.70" x2="1173.25" y2="496.90" stroke="#000" stroke-width="2.6" stroke-linecap="butt"/>
<line x1="1168.75" y1="496.90" x2="1177.75" y2="496.90" stroke="#000" stroke-width="2.8" stroke-linecap="round"/>
<rect x="1163.15" y="508.10" width="20.20" height="213.10" fill="#55ad74" stroke="#000" stroke-width="2.8"/>
<line x1="1208.12" y1="636.80" x2="1208.12" y2="630.50" stroke="#000" stroke-width="2.6" stroke-linecap="butt"/>
<line x1="1203.62" y1="630.50" x2="1212.62" y2="630.50" stroke="#000" stroke-width="2.8" stroke-linecap="round"/>
<rect x="1198.02" y="637.20" width="20.20" height="84.00" fill="#c9585a" stroke="#000" stroke-width="2.8"/>
<line x1="1242.99" y1="637.70" x2="1242.99" y2="632.80" stroke="#000" stroke-width="2.6" stroke-linecap="butt"/>
<line x1="1238.49" y1="632.80" x2="1247.49" y2="632.80" stroke="#000" stroke-width="2.8" stroke-linecap="round"/>
<rect x="1232.89" y="638.10" width="20.20" height="83.10" fill="#7671b5" stroke="#000" stroke-width="2.8"/>
<line x1="998.50" y1="429.00" x2="1118.00" y2="429.00" stroke="#000" stroke-width="2.1" stroke-linecap="round"/>
<line x1="1126.70" y1="429.00" x2="1179.10" y2="429.00" stroke="#000" stroke-width="2.1" stroke-linecap="round"/>
<line x1="1191.90" y1="429.00" x2="1231.30" y2="429.00" stroke="#000" stroke-width="2.1" stroke-linecap="round"/>
<text x="1052.16" y="430.05" font-size="28.8" font-weight="700" textLength="13.91" lengthAdjust="spacingAndGlyphs" fill="#000" font-family="DejaVu Sans">*</text>
<text x="1146.46" y="430.05" font-size="28.8" font-weight="700" textLength="13.91" lengthAdjust="spacingAndGlyphs" fill="#000" font-family="DejaVu Sans">*</text>
<text x="1200.27" y="421.00" font-size="21.8" font-weight="400" textLength="21.98" lengthAdjust="spacingAndGlyphs" fill="#000">ns</text>
<text transform="translate(877.90,664.87) rotate(-90)" x="0" y="0" font-size="21.8" font-weight="400" textLength="83.12" lengthAdjust="spacingAndGlyphs">Complex</text>
<text transform="translate(878.60,574.78) rotate(-90)" x="0" y="0" font-size="24" font-weight="600" font-family="Noto Serif CJK SC" textLength="23.12" lengthAdjust="spacingAndGlyphs">Ⅳ</text>
<text transform="translate(877.90,545.37) rotate(-90)" x="0" y="0" font-size="21.8" font-weight="400" textLength="71.00" lengthAdjust="spacingAndGlyphs">activity</text>
<text transform="translate(907.00,669.03) rotate(-90)" x="0" y="0" font-size="21.8" font-weight="400" textLength="197.82" lengthAdjust="spacingAndGlyphs">(mmol/min/mg Pro)</text>
<line x1="1392.10" y1="428.55" x2="1392.10" y2="722.70" stroke="#000" stroke-width="3.0" stroke-linecap="butt"/>
<line x1="1392.10" y1="721.20" x2="1684.00" y2="721.20" stroke="#000" stroke-width="3.0" stroke-linecap="butt"/>
<line x1="1381.20" y1="721.20" x2="1392.10" y2="721.20" stroke="#000" stroke-width="3.0" stroke-linecap="round"/>
<text x="1365.05" y="729.12" font-size="22" font-weight="700" textLength="12.25" lengthAdjust="spacingAndGlyphs" fill="#000">0</text>
<line x1="1381.20" y1="624.15" x2="1392.10" y2="624.15" stroke="#000" stroke-width="3.0" stroke-linecap="round"/>
<text x="1364.80" y="631.95" font-size="22" font-weight="700" textLength="12.25" lengthAdjust="spacingAndGlyphs" fill="#000">5</text>
<line x1="1381.20" y1="527.10" x2="1392.10" y2="527.10" stroke="#000" stroke-width="3.0" stroke-linecap="round"/>
<text x="1352.80" y="535.02" font-size="22" font-weight="700" textLength="24.48" lengthAdjust="spacingAndGlyphs" fill="#000">10</text>
<line x1="1381.20" y1="430.05" x2="1392.10" y2="430.05" stroke="#000" stroke-width="3.0" stroke-linecap="round"/>
<text x="1352.55" y="437.85" font-size="22" font-weight="700" textLength="24.48" lengthAdjust="spacingAndGlyphs" fill="#000">15</text>
<line x1="1415.40" y1="474.00" x2="1415.40" y2="465.60" stroke="#000" stroke-width="2.6" stroke-linecap="butt"/>
<line x1="1410.90" y1="465.60" x2="1419.90" y2="465.60" stroke="#000" stroke-width="2.8" stroke-linecap="round"/>
<rect x="1405.30" y="474.40" width="20.20" height="246.80" fill="#ffffff" stroke="#000" stroke-width="2.8"/>
<line x1="1450.30" y1="466.70" x2="1450.30" y2="454.20" stroke="#000" stroke-width="2.6" stroke-linecap="butt"/>
<line x1="1445.80" y1="454.20" x2="1454.80" y2="454.20" stroke="#000" stroke-width="2.8" stroke-linecap="round"/>
<rect x="1440.20" y="467.10" width="20.20" height="254.10" fill="#a3a2a7" stroke="#000" stroke-width="2.8"/>
<line x1="1485.20" y1="623.90" x2="1485.20" y2="619.50" stroke="#000" stroke-width="2.6" stroke-linecap="butt"/>
<line x1="1480.70" y1="619.50" x2="1489.70" y2="619.50" stroke="#000" stroke-width="2.8" stroke-linecap="round"/>
<rect x="1475.10" y="624.30" width="20.20" height="96.90" fill="#cdb27c" stroke="#000" stroke-width="2.8"/>
<line x1="1520.10" y1="628.00" x2="1520.10" y2="625.10" stroke="#000" stroke-width="2.6" stroke-linecap="butt"/>
<line x1="1515.60" y1="625.10" x2="1524.60" y2="625.10" stroke="#000" stroke-width="2.8" stroke-linecap="round"/>
<rect x="1510.00" y="628.40" width="20.20" height="92.80" fill="#5bb6cc" stroke="#000" stroke-width="2.8"/>
<line x1="1555.00" y1="583.50" x2="1555.00" y2="578.00" stroke="#000" stroke-width="2.6" stroke-linecap="butt"/>
<line x1="1550.50" y1="578.00" x2="1559.50" y2="578.00" stroke="#000" stroke-width="2.8" stroke-linecap="round"/>
<rect x="1544.90" y="583.90" width="20.20" height="137.30" fill="#4777bb" stroke="#000" stroke-width="2.8"/>
<line x1="1589.90" y1="531.60" x2="1589.90" y2="523.70" stroke="#000" stroke-width="2.6" stroke-linecap="butt"/>
<line x1="1585.40" y1="523.70" x2="1594.40" y2="523.70" stroke="#000" stroke-width="2.8" stroke-linecap="round"/>
<rect x="1579.80" y="532.00" width="20.20" height="189.20" fill="#55ad74" stroke="#000" stroke-width="2.8"/>
<line x1="1624.80" y1="644.70" x2="1624.80" y2="641.90" stroke="#000" stroke-width="2.6" stroke-linecap="butt"/>
<line x1="1620.30" y1="641.90" x2="1629.30" y2="641.90" stroke="#000" stroke-width="2.8" stroke-linecap="round"/>
<rect x="1614.70" y="645.10" width="20.20" height="76.10" fill="#c9585a" stroke="#000" stroke-width="2.8"/>
<line x1="1659.70" y1="635.00" x2="1659.70" y2="631.70" stroke="#000" stroke-width="2.6" stroke-linecap="butt"/>
<line x1="1655.20" y1="631.70" x2="1664.20" y2="631.70" stroke="#000" stroke-width="2.8" stroke-linecap="round"/>
<rect x="1649.60" y="635.40" width="20.20" height="85.80" fill="#7671b5" stroke="#000" stroke-width="2.8"/>
<line x1="1412.90" y1="420.10" x2="1532.40" y2="420.10" stroke="#000" stroke-width="2.1" stroke-linecap="round"/>
<line x1="1540.40" y1="420.10" x2="1594.00" y2="420.10" stroke="#000" stroke-width="2.1" stroke-linecap="round"/>
<line x1="1606.20" y1="420.10" x2="1646.00" y2="420.10" stroke="#000" stroke-width="2.1" stroke-linecap="round"/>
<text x="1465.96" y="421.15" font-size="28.8" font-weight="700" textLength="13.91" lengthAdjust="spacingAndGlyphs" fill="#000" font-family="DejaVu Sans">*</text>
<text x="1560.96" y="421.15" font-size="28.8" font-weight="700" textLength="13.91" lengthAdjust="spacingAndGlyphs" fill="#000" font-family="DejaVu Sans">*</text>
<text x="1614.78" y="412.10" font-size="21.8" font-weight="400" textLength="21.87" lengthAdjust="spacingAndGlyphs" fill="#000">ns</text>
<text transform="translate(1305.70,640.38) rotate(-90)" x="0" y="0" font-size="21.8" font-weight="400" textLength="152.97" lengthAdjust="spacingAndGlyphs">MnSOD activity</text>
<text transform="translate(1334.60,643.73) rotate(-90)" x="0" y="0" font-size="21.8" font-weight="400" textLength="161.45" lengthAdjust="spacingAndGlyphs">( U/mg protein )</text>
</svg>
</body></html>
